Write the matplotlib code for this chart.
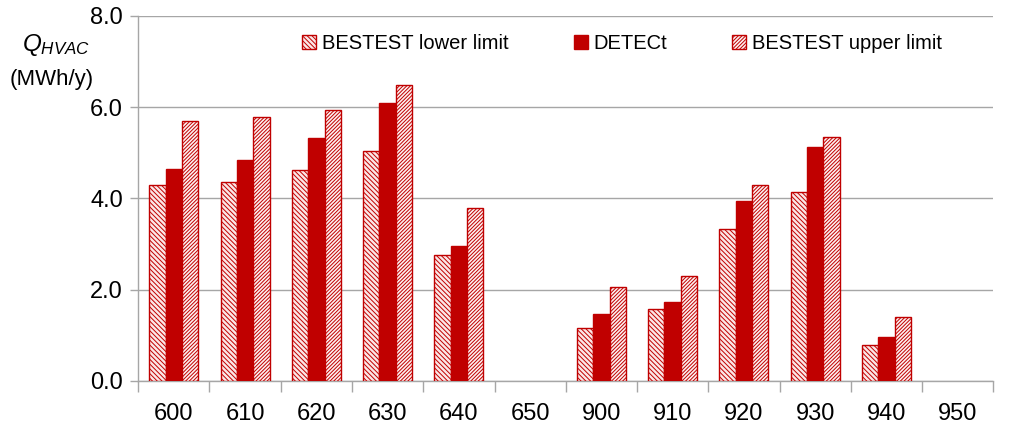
import numpy as np
import matplotlib
matplotlib.use("Agg")
import matplotlib.pyplot as plt

plt.rcParams['font.family'] = ['Liberation Sans', 'DejaVu Sans']
plt.rcParams['mathtext.fontset'] = 'custom'
plt.rcParams['mathtext.it'] = 'Liberation Sans:italic'
plt.rcParams['mathtext.rm'] = 'Liberation Sans'
plt.rcParams['hatch.linewidth'] = 0.7

cases = ['600', '610', '620', '630', '640', '650', '900', '910', '920', '930', '940', '950']
lower = [4.30, 4.35, 4.62, 5.05, 2.75, np.nan, 1.17, 1.57, 3.32, 4.14, 0.78, np.nan]
detect = [4.65, 4.85, 5.33, 6.10, 2.95, np.nan, 1.46, 1.72, 3.95, 5.12, 0.96, np.nan]
upper = [5.70, 5.79, 5.94, 6.48, 3.80, np.nan, 2.05, 2.29, 4.30, 5.34, 1.41, np.nan]

red = '#C00000'
grey = '#A6A6A6'

fig = plt.figure(figsize=(10.24, 4.30), dpi=100)
ax = fig.add_axes([0.135, 0.114, 0.835, 0.849])

x = np.arange(len(cases))
w = 0.23
ax.bar(x - w, lower, w, facecolor='#fbe6e6', edgecolor=red, hatch='\\' * 7,
       linewidth=1.0, label='BESTEST lower limit', zorder=3)
ax.bar(x, detect, w, color=red, edgecolor=red, linewidth=1.0,
       label='DETECt', zorder=3)
ax.bar(x + w, upper, w, facecolor='#fdf0f0', edgecolor=red, hatch='/' * 9,
       linewidth=1.0, label='BESTEST upper limit', zorder=3)

ax.set_xlim(-0.5, len(cases) - 0.5)
ax.set_ylim(0, 8)
ax.set_yticks([0, 2, 4, 6, 8])
ax.set_yticklabels(['0.0', '2.0', '4.0', '6.0', '8.0'])
ax.set_xticks(x)
ax.set_xticklabels(cases)
ax.set_xticks(np.arange(-0.5, len(cases)), minor=True)
ax.tick_params(axis='x', which='major', length=0, pad=16, labelsize=17)
ax.tick_params(axis='x', which='minor', length=8, color=grey, width=1)
ax.tick_params(axis='y', length=6, color=grey, width=1, labelsize=17, pad=5)

ax.grid(axis='y', color=grey, linewidth=1, zorder=0)
for s in ['top', 'right']:
    ax.spines[s].set_visible(False)
for s in ['left', 'bottom']:
    ax.spines[s].set_color(grey)
    ax.spines[s].set_linewidth(1)

fig.text(0.055, 0.895, r'$Q_{HVAC}$', fontsize=17.5, ha='center', va='center')
fig.text(0.05, 0.815, '(MWh/y)', fontsize=16, ha='center', va='center')

ax.legend(loc='center', bbox_to_anchor=(0.566, 0.925), ncol=3, frameon=False,
          fontsize=14.5, handlelength=0.7, handleheight=0.7, handletextpad=0.3,
          columnspacing=3.2)

fig.savefig('out.png', dpi=100)
